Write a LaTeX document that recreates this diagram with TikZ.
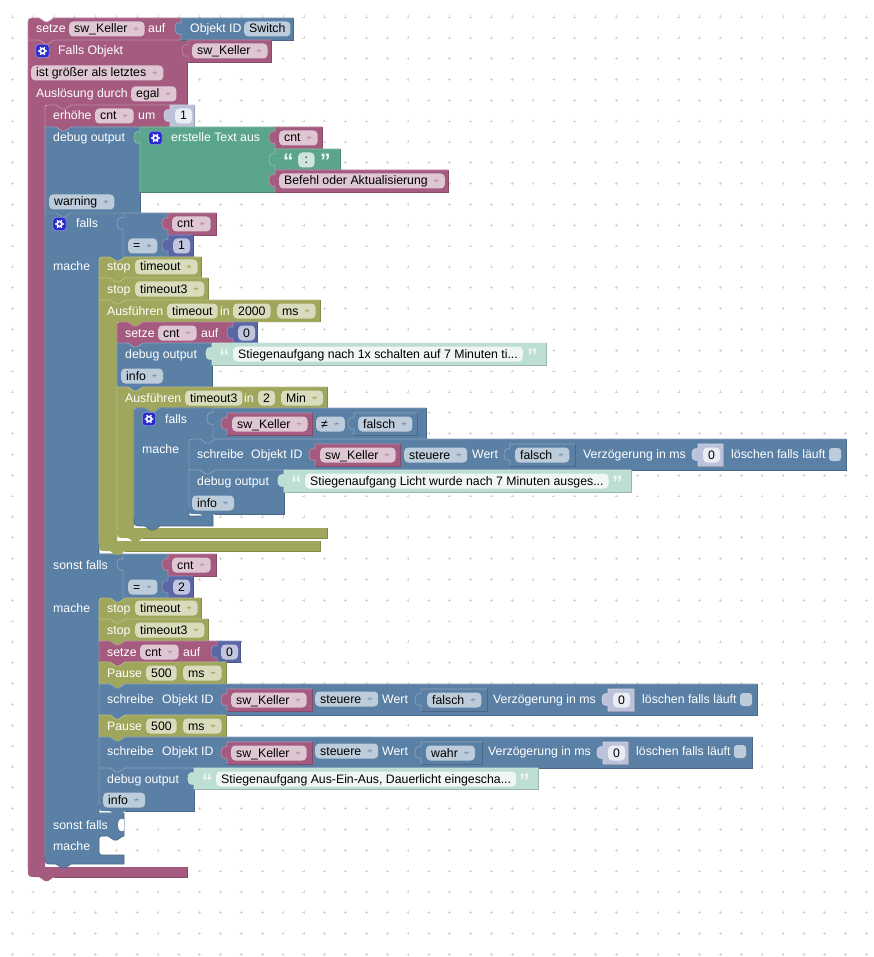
\documentclass[tikz,border=0pt]{standalone}
\usepackage{fontspec}
\setmainfont{Liberation Sans}
\definecolor{varcol}{HTML}{A55B80}
\definecolor{logiccol}{HTML}{5B80A5}
\definecolor{textcol}{HTML}{5BA58C}
\definecolor{timecol}{HTML}{A0A65B}
\definecolor{numcol}{HTML}{5B67A5}
\definecolor{shnumcol}{HTML}{BDC2DB}
\definecolor{shtextcol}{HTML}{BDDED2}
\definecolor{gearcol}{HTML}{2A2AD0}
\tikzset{
  griddot/.style={draw=black!16, line width=0.45pt},
  lbl/.style={anchor=west, inner sep=0pt, text=white, text height=9.5pt, text depth=1.5pt, font=\fontsize{12.3}{14}\selectfont},
  pill/.style={anchor=west, rounded corners=4pt, inner xsep=5pt, inner ysep=0pt, minimum height=15pt,
    text=black, text height=9.5pt, text depth=1.5pt, font=\fontsize{12.3}{14}\selectfont},
  drop/.style 2 args={pill, fill=#1, execute at end node={\hspace*{12pt}},
    path picture={\fill[#2] ([shift={(-11.5pt,1.5pt)}]path picture bounding box.east) -- ++(6pt,0pt) -- ++(-3pt,-3.5pt) -- cycle;}},
  dropvar/.style={drop={varcol!35!white}{varcol!70!white}},
  droplog/.style={drop={logiccol!40!white}{logiccol!85!white}},
  droptim/.style={drop={timecol!40!white}{timecol}},
  fldlog/.style={pill, fill=logiccol!40!white},
  fldtim/.style={pill, fill=timecol!40!white},
  fldnum/.style={pill, fill=numcol!38!white},
  fldsh/.style={pill, fill=numcol!12!white},
  fldtxt/.style={pill, fill=textcol!30!white},
  fldsht/.style={pill, fill=textcol!10!white},
  quo/.style={anchor=base west, inner sep=0pt, text=white!90!textcol, font=\fontsize{21}{21}\bfseries\selectfont},
  chk/.style={fill=logiccol!40!white, rounded corners=3pt},
}
\newcommand{\stmtblk}[7]{%
  \fill[#1] (#2,#3+#6) .. controls (#2,#3) .. (#2+#6,#3) -- (#2+11,#3) -- ++(6,4) -- ++(3,0) -- ++(6,-4) -- (#4,#3)
    -- (#4,#5) -- (#2+26,#5) -- ++(-6,4) -- ++(-3,0) -- ++(-6,-4) -- (#2+#7,#5) .. controls (#2,#5) .. (#2,#5-#7) -- cycle;
  \draw[#1!72!white, line width=0.7pt] (#2,#5-#7) -- (#2,#3+#6) .. controls (#2,#3) .. (#2+#6,#3) -- (#2+11,#3) -- ++(6,4) -- ++(3,0) -- ++(6,-4) -- (#4,#3);
  \draw[#1!82!black, line width=0.7pt] (#4,#3) -- (#4,#5) -- (#2+26,#5);
}
\newcommand{\valblk}[5]{%
  \fill[#1] (#2,#3) -- (#2,#3+5) .. controls (#2-3,#3+4) and (#2-6,#3+5) .. (#2-6,#3+10.5)
    .. controls (#2-6,#3+16) and (#2-3,#3+17) .. (#2,#3+16) -- (#2,#5) -- (#4,#5) -- (#4,#3) -- cycle;
  \draw[#1!72!white, line width=0.7pt] (#4,#3) -- (#2,#3) -- (#2,#3+5) .. controls (#2-3,#3+4) and (#2-6,#3+5) .. (#2-6,#3+10.5)
    .. controls (#2-6,#3+16) and (#2-3,#3+17) .. (#2,#3+16) -- (#2,#5);
  \draw[#1!82!black, line width=0.7pt] (#2,#5) -- (#4,#5) -- (#4,#3);
}
\newcommand{\cblk}[9]{%
  \fill[#1] (#2,#3) -- (#2+11,#3) -- ++(6,4) -- ++(3,0) -- ++(6,-4) -- (#4,#3) -- (#4,#5) -- (#6+26,#5) -- ++(-6,4) -- ++(-3,0) -- ++(-6,-4)
    -- (#6,#5) -- (#6,#7) -- (#9,#7) -- (#9,#8) -- (#2+26,#8) -- ++(-6,4) -- ++(-3,0) -- ++(-6,-4) -- (#2+8,#8) .. controls (#2,#8) .. (#2,#8-8) -- cycle;
  \draw[#1!72!white, line width=0.7pt] (#2,#8-8) -- (#2,#3) -- (#2+11,#3) -- ++(6,4) -- ++(3,0) -- ++(6,-4) -- (#4,#3);
  \draw[#1!82!black, line width=0.7pt] (#4,#3) -- (#4,#5) (#9,#7) -- (#9,#8) -- (#2+26,#8);
}
\newcommand{\gearicon}[2]{%
  \begin{scope}[shift={(#1,#2)}]
    \filldraw[fill=gearcol, draw=white!70!gearcol, rounded corners=2.5pt] (-6.5,-6.5) rectangle (6.5,6.5);
    \fill[white] (0,0) circle (3.4);
    \fill[gearcol] (0,0) circle (1.6);
    \foreach \a in {0,60,...,300} \fill[white] (\a:3.8) circle (0.9);
  \end{scope}
}
\begin{document}
\begin{tikzpicture}[x=1pt, y=-1pt]
  \useasboundingbox (0,0) rectangle (873,957);
  \fill[white] (0,0) rectangle (873,957);
  \foreach \i in {0,...,41} \foreach \j in {0,...,45}
    \draw[griddot] ({12.2+20.83*\i-1.4},{16.9+20.83*\j}) -- ++(2.8,0) ++(-1.4,-1.4) -- ++(0,2.8);

  \stmtblk{varcol}{28}{18}{181}{40}{8}{0}
  \cblk{varcol}{28}{40}{187}{105}{45}{867}{877}{187}
  \valblk{logiccol}{181}{18}{293}{40}
  \valblk{varcol}{188}{40}{271}{62}
  \node[lbl] (setzeTop) at (36,29) {setze};
  \node[dropvar] (setzeKeller) at (69,29) {sw\_Keller};
  \node[lbl] (setzeAuf) at (148,29) {auf};
  \node[lbl] (objId) at (190,29) {Objekt ID};
  \node[fldlog] (objSwitch) at (244,29) {Switch};
  \gearicon{42.5}{51}
  \node[lbl] (fallsObj) at (58,51) {Falls Objekt};
  \node[dropvar] (fallsKeller) at (192,51) {sw\_Keller};
  \node[dropvar] (groesser) at (31,73) {ist größer als letztes};
  \node[lbl] (ausloes) at (36,94) {Auslösung durch};
  \node[dropvar] (egal) at (131,94) {egal};

  \stmtblk{varcol}{45}{105}{170}{127}{6}{0}
  \valblk{shnumcol}{170}{105}{194}{127}
  \node[lbl] (erhoehe) at (53,116) {erhöhe};
  \node[dropvar] (erhCnt) at (95,116) {cnt};
  \node[lbl] (erhUm) at (138,116) {um};
  \node[fldsh] (erhEins) at (175,116) {1};

  \stmtblk{logiccol}{45}{127}{140}{213}{0}{0}
  \valblk{textcol}{140}{127}{275}{192}
  \valblk{varcol}{275}{127}{322}{149}
  \valblk{textcol}{275}{149}{340}{170}
  \valblk{varcol}{275}{170}{448}{192}
  \node[lbl] (dbgA) at (53,138) {debug output};
  \gearicon{155.5}{138}
  \node[lbl] (erstelle) at (171,138) {erstelle Text aus};
  \node[dropvar] (dbgCnt) at (279,138) {cnt};
  \node[quo] (quoA) at (283,169) {“};
  \node[fldtxt] (colon) at (298,160) {\hspace*{1.5pt}:\hspace*{1.5pt}};
  \node[quo] (quoB) at (320,169) {”};
  \node[dropvar] (befehl) at (279,181) {Befehl oder Aktualisierung};
  \node[droplog] (warn) at (49,202) {warning};

  \filldraw[fill=logiccol, draw=logiccol!82!black, line width=0.7pt] (45,213) -- (56,213) -- ++(6,4) -- ++(3,0) -- ++(6,-4) -- (123,213) -- (123,257)
    -- (125,257) -- ++(-6,4) -- ++(-3,0) -- ++(-6,-4) -- (99,257) -- (99,554) -- (123,554) -- (123,598)
    -- (125,598) -- ++(-6,4) -- ++(-3,0) -- ++(-6,-4) -- (99,598) -- (99,813) -- (124,813) -- (124,836)
    -- ++(-1,0) -- ++(-6,4) -- ++(-3,0) -- ++(-6,-4) -- (105,836) .. controls (99,836) .. (99,842) -- (99,849) .. controls (99,855) .. (105,855)
    -- (124,855) -- (124,864) -- (71,864) -- ++(-6,4) -- ++(-3,0) -- ++(-6,-4) -- (53,864) .. controls (45,864) .. (45,856) -- cycle;
  \draw[logiccol!72!white, line width=0.7pt] (45,856) -- (45,213) -- (56,213) -- ++(6,4) -- ++(3,0) -- ++(6,-4) -- (123,213) (99,554) -- (123,554) (99,813) -- (124,813);
  \fill[white] (124,819.5) .. controls (121,818) and (118,819) .. (118,825) .. controls (118,831) and (121,832) .. (124,830.5) -- cycle;
  \valblk{logiccol}{123}{213}{168}{257}
  \valblk{varcol}{168}{213}{216}{235}
  \valblk{numcol}{168}{235}{193}{257}
  \gearicon{59.5}{224}
  \node[lbl] (falls) at (76,224) {falls};
  \node[dropvar] (fallsCnt) at (172,224) {cnt};
  \node[droplog] (fallsGl) at (128,246) {=};
  \node[fldnum] (fallsEins) at (173,246) {1};
  \node[lbl] (macheA) at (53,267) {mache};

  \stmtblk{timecol}{99}{257}{201}{278}{6}{0}
  \node[lbl] (stopA) at (107,267) {stop};
  \node[droptim] (stopTimeout) at (135,267) {timeout};
  \stmtblk{timecol}{99}{278}{208}{300}{0}{0}
  \node[lbl] (stopB) at (107,289) {stop};
  \node[droptim] (stopTimeoutDrei) at (135,289) {timeout3};

  \cblk{timecol}{99}{300}{320}{322}{117}{541}{551}{320}
  \node[lbl] (ausA) at (107,311) {Ausführen};
  \node[fldtim] (ausTimeout) at (167,311) {timeout};
  \node[lbl] (ausIn) at (220,311) {in};
  \node[fldtim] (ausMs) at (233,311) {2000};
  \node[droptim] (ausEinheit) at (277,311) {ms};

  \stmtblk{varcol}{117}{322}{233}{343}{6}{0}
  \valblk{numcol}{233}{322}{257}{343}
  \node[lbl] (setzeA) at (125,333) {setze};
  \node[dropvar] (setzeACnt) at (158,333) {cnt};
  \node[lbl] (setzeAAuf) at (201,333) {auf};
  \node[fldnum] (setzeANull) at (238,333) {0};

  \stmtblk{logiccol}{117}{343}{212}{387}{0}{0}
  \valblk{shtextcol}{212}{343}{546}{365}
  \node[lbl] (dbgB) at (125,354) {debug output};
  \node[quo] (quoC) at (219,363) {“};
  \node[fldsht] (msgA) at (233,354) {Stiegenaufgang nach 1x schalten auf 7 Minuten ti...};
  \node[quo] (quoD) at (527,363) {”};
  \node[droplog] (infoA) at (121,376) {info};

  \cblk{timecol}{117}{387}{327}{408}{134}{528}{538}{327}
  \node[lbl] (ausB) at (125,398) {Ausführen};
  \node[fldtim] (ausBTimeout) at (185,398) {timeout3};
  \node[lbl] (ausBIn) at (244,398) {in};
  \node[fldtim] (ausBZwei) at (258,398) {2};
  \node[droptim] (ausBMin) at (281,398) {Min};

  \filldraw[fill=logiccol, draw=logiccol!82!black, line width=0.7pt] (134,414) .. controls (134,408) .. (140,408) -- (145,408) -- ++(6,4) -- ++(3,0) -- ++(6,-4) -- (213,408) -- (213,439)
    -- (215,439) -- ++(-6,4) -- ++(-3,0) -- ++(-6,-4) -- (189,439) -- (189,516) -- (213,516) -- (213,526)
    -- (160,526) -- ++(-6,4) -- ++(-3,0) -- ++(-6,-4) -- (142,526) .. controls (134,526) .. (134,518) -- cycle;
  \draw[logiccol!72!white, line width=0.7pt] (134,518) -- (134,414) .. controls (134,408) .. (140,408) -- (145,408) -- ++(6,4) -- ++(3,0) -- ++(6,-4) -- (213,408);
  \valblk{logiccol}{213}{408}{426}{439}
  \valblk{varcol}{227}{413}{312}{435}
  \valblk{logiccol}{354}{413}{417}{435}
  \gearicon{149}{419}
  \node[lbl] (fallsB) at (165,419) {falls};
  \node[dropvar] (fallsBKeller) at (232,424) {sw\_Keller};
  \node[droplog] (fallsBUng) at (316,424) {≠};
  \node[droplog] (fallsBFalsch) at (358,424) {falsch};
  \node[lbl] (macheB) at (142,449) {mache};

  \stmtblk{logiccol}{189}{439}{846}{470}{6}{0}
  \valblk{varcol}{315}{444}{400}{466}
  \valblk{logiccol}{510}{444}{575}{466}
  \valblk{shnumcol}{698}{444}{723}{466}
  \node[lbl] (schrA) at (197,454) {schreibe};
  \node[lbl] (schrAId) at (251,454) {Objekt ID};
  \node[dropvar] (schrAKeller) at (320,455) {sw\_Keller};
  \node[droplog] (schrASt) at (404,455) {steuere};
  \node[lbl] (schrAWert) at (472,454) {Wert};
  \node[droplog] (schrAFalsch) at (515,455) {falsch};
  \node[lbl] (schrAVerz) at (583,454) {Verzögerung in ms};
  \node[fldsh] (schrANull) at (703,455) {0};
  \node[lbl] (schrALoe) at (731,454) {löschen falls läuft};
  \fill[chk] (829,448) rectangle (841,461);

  \stmtblk{logiccol}{189}{470}{284}{514}{0}{6}
  \valblk{shtextcol}{284}{470}{631}{492}
  \node[lbl] (dbgC) at (197,481) {debug output};
  \node[quo] (quoE) at (291,490) {“};
  \node[fldsht] (msgB) at (305,481) {Stiegenaufgang Licht wurde nach 7 Minuten ausges...};
  \node[quo] (quoF) at (612,490) {”};
  \node[droplog] (infoB) at (192,503) {info};

  \valblk{logiccol}{123}{554}{168}{598}
  \valblk{varcol}{168}{554}{216}{576}
  \valblk{numcol}{168}{576}{193}{598}
  \node[lbl] (sonstA) at (53,565) {sonst falls};
  \node[dropvar] (sonstCnt) at (172,565) {cnt};
  \node[droplog] (sonstGl) at (128,587) {=};
  \node[fldnum] (sonstZwei) at (173,587) {2};
  \node[lbl] (macheC) at (53,608) {mache};

  \stmtblk{timecol}{99}{598}{201}{619}{6}{0}
  \node[lbl] (stopC) at (107,608) {stop};
  \node[droptim] (stopCTimeout) at (135,608) {timeout};
  \stmtblk{timecol}{99}{619}{208}{641}{0}{0}
  \node[lbl] (stopD) at (107,630) {stop};
  \node[droptim] (stopDTimeout) at (135,630) {timeout3};

  \stmtblk{varcol}{99}{641}{217}{662}{0}{0}
  \valblk{numcol}{217}{641}{240}{662}
  \node[lbl] (setzeB) at (107,652) {setze};
  \node[dropvar] (setzeBCnt) at (140,652) {cnt};
  \node[lbl] (setzeBAuf) at (183,652) {auf};
  \node[fldnum] (setzeBNull) at (221,652) {0};

  \stmtblk{timecol}{99}{662}{226}{684}{0}{0}
  \node[lbl] (pauseA) at (107,673) {Pause};
  \node[fldtim] (pauseAWert) at (146,673) {500};
  \node[droptim] (pauseAEinheit) at (183,673) {ms};

  \stmtblk{logiccol}{99}{684}{757}{715}{0}{0}
  \valblk{varcol}{227}{689}{312}{711}
  \valblk{logiccol}{421}{689}{487}{711}
  \valblk{shnumcol}{608}{689}{634}{711}
  \node[lbl] (schrB) at (107,699) {schreibe};
  \node[lbl] (schrBId) at (162,699) {Objekt ID};
  \node[dropvar] (schrBKeller) at (231,700) {sw\_Keller};
  \node[droplog] (schrBSt) at (315,699) {steuere};
  \node[lbl] (schrBWert) at (382,699) {Wert};
  \node[droplog] (schrBFalsch) at (427,700) {falsch};
  \node[lbl] (schrBVerz) at (493,699) {Verzögerung in ms};
  \node[fldsh] (schrBNull) at (613,700) {0};
  \node[lbl] (schrBLoe) at (642,699) {löschen falls läuft};
  \fill[chk] (740,693) rectangle (752,706);

  \stmtblk{timecol}{99}{715}{226}{737}{0}{0}
  \node[lbl] (pauseB) at (107,726) {Pause};
  \node[fldtim] (pauseBWert) at (146,726) {500};
  \node[droptim] (pauseBEinheit) at (183,726) {ms};

  \stmtblk{logiccol}{99}{737}{752}{768}{0}{0}
  \valblk{varcol}{227}{742}{312}{764}
  \valblk{logiccol}{421}{742}{482}{764}
  \valblk{shnumcol}{603}{742}{628}{764}
  \node[lbl] (schrC) at (107,751) {schreibe};
  \node[lbl] (schrCId) at (162,751) {Objekt ID};
  \node[dropvar] (schrCKeller) at (231,753) {sw\_Keller};
  \node[droplog] (schrCSt) at (315,751) {steuere};
  \node[lbl] (schrCWert) at (382,751) {Wert};
  \node[droplog] (schrCWahr) at (426,753) {wahr};
  \node[lbl] (schrCVerz) at (488,751) {Verzögerung in ms};
  \node[fldsh] (schrCNull) at (608,753) {0};
  \node[lbl] (schrCLoe) at (636,751) {löschen falls läuft};
  \fill[chk] (734,745) rectangle (746,758);

  \stmtblk{logiccol}{99}{768}{194}{811}{0}{6}
  \valblk{shtextcol}{194}{768}{538}{789}
  \node[lbl] (dbgD) at (107,779) {debug output};
  \node[quo] (quoG) at (202,788) {“};
  \node[fldsht] (msgC) at (216,779) {Stiegenaufgang Aus-Ein-Aus, Dauerlicht eingescha...};
  \node[quo] (quoH) at (519,788) {”};
  \node[droplog] (infoC) at (103,800) {info};

  \node[lbl] (sonstB) at (53,825) {sonst falls};
  \node[lbl] (macheD) at (53,846) {mache};
\end{tikzpicture}
\end{document}
